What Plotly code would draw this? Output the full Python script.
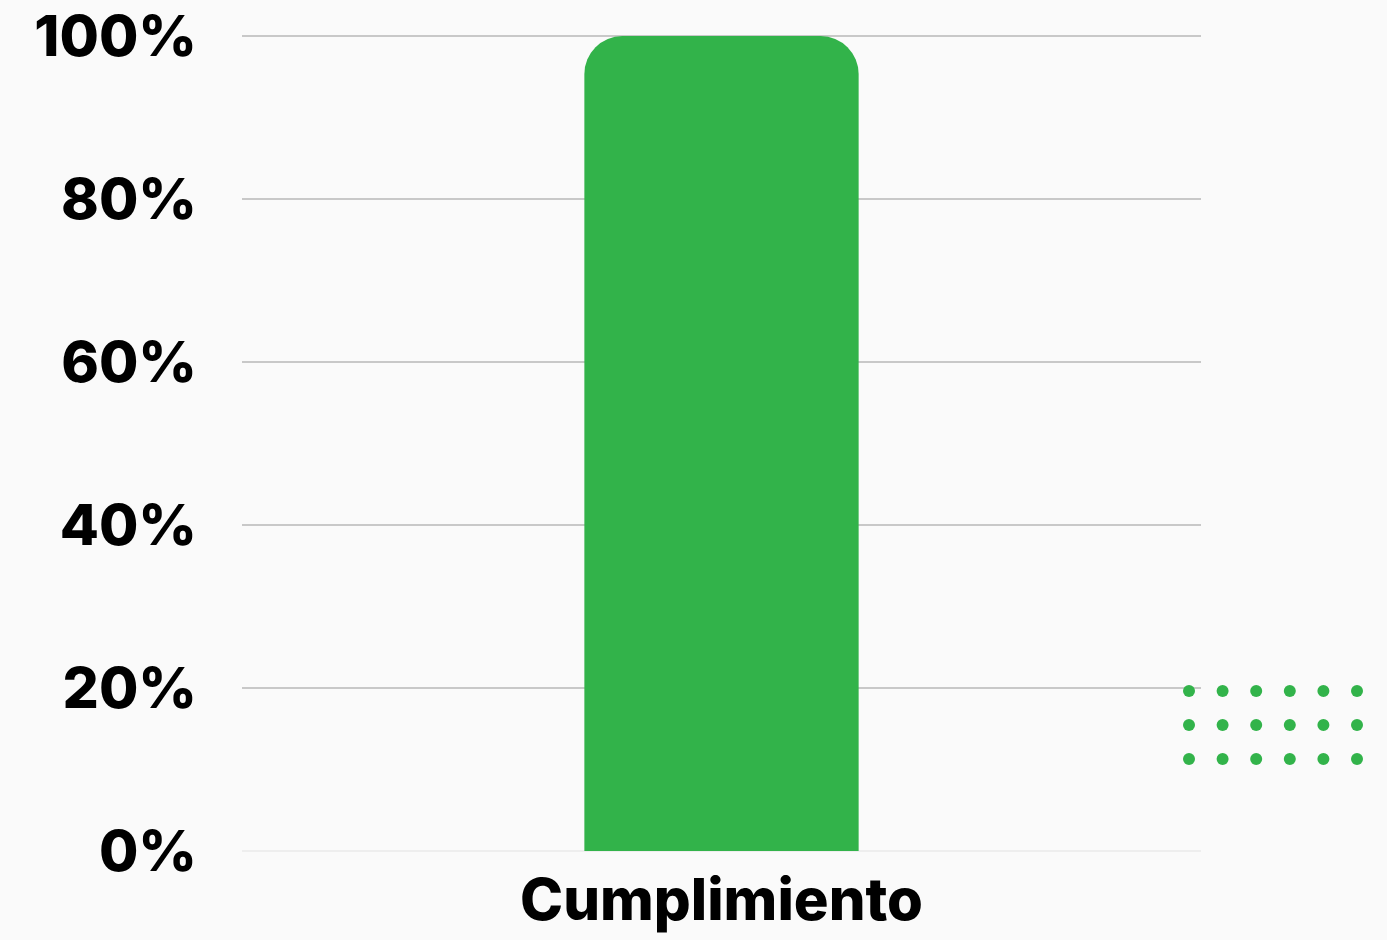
import plotly.graph_objects as go

categories = ["Cumplimiento"]
values = [100]
tick_vals = [0, 20, 40, 60, 80, 100]
tick_text = ["0%", "20%", "40%", "60%", "80%", "100%"]

GREEN = "#32B34A"
FONT = "Inter"

fig = go.Figure()
fig.add_trace(go.Bar(
    x=categories, y=values,
    marker=dict(color=GREEN, line=dict(width=0)),
    width=0.286,
    hoverinfo="skip",
))

# decorative dot grid (paper coordinates)
PL, PW, PB, PH = 242, 959, 851, 817
shapes = []
r = 6
for row in range(3):
    for col in range(6):
        cx = 1189 + col * 33.6
        cy = 691 + row * 34
        shapes.append(dict(
            type="circle", xref="paper", yref="paper",
            x0=(cx - r - PL) / PW, x1=(cx + r - PL) / PW,
            y0=(PB - cy - r) / PH, y1=(PB - cy + r) / PH,
            fillcolor=GREEN, line=dict(width=0), layer="above",
        ))

fig.update_layout(
    width=1387, height=940,
    margin=dict(l=242, r=186, t=34, b=89),
    paper_bgcolor="#FAFAFA", plot_bgcolor="#FAFAFA",
    barcornerradius=38,
    showlegend=False,
    shapes=shapes,
    font=dict(family=FONT, color="#000000", weight=800),
    xaxis=dict(
        range=[-0.5, 0.5], showgrid=False, showline=False, zeroline=False,
        tickfont=dict(family=FONT, size=58, color="#000", weight=800),
        ticks="", ticklabelstandoff=10, automargin=False,
    ),
    yaxis=dict(
        range=[0, 100.25], tickvals=tick_vals, ticktext=tick_text,
        showgrid=True, gridcolor="#C8C8C8", gridwidth=1.5,
        zeroline=True, zerolinecolor="#EEEEEE", zerolinewidth=1.5,
        showline=False, ticks="", ticklabelstandoff=44, automargin=False,
        tickfont=dict(family=FONT, size=57, color="#000", weight=800),
    ),
)

post = (
    "document.body.style.margin='0';"
    "document.body.style.background='#FAFAFA';"
    "document.body.style.overflow='hidden';"
)
fig.write_html("out.html", config={"displayModeBar": False}, post_script=post)
